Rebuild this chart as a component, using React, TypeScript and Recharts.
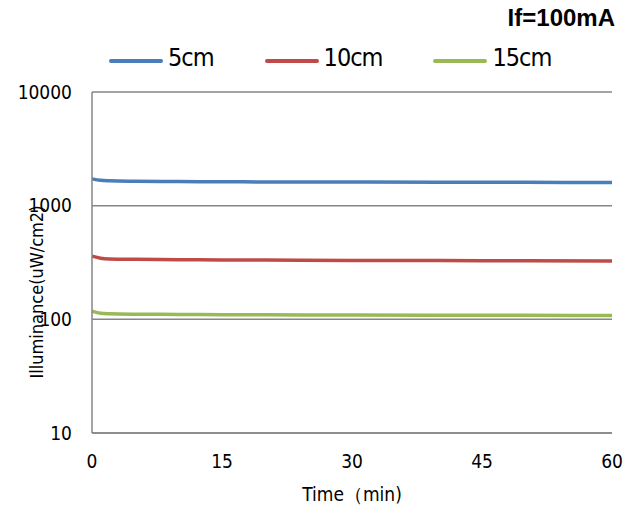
import React from "react";
import { LineChart, Line, XAxis, YAxis, CartesianGrid } from "recharts";

const times = [0, 1, 2, 5, 10, 15, 20, 30, 40, 50, 60];
const cm5 = [1720, 1670, 1655, 1640, 1630, 1622, 1617, 1612, 1607, 1603, 1600];
const cm10 = [360, 345, 340, 337, 335, 333, 332, 330, 329, 327, 326];
const cm15 = [118, 113, 112, 111, 110.5, 110, 109.7, 109, 108.7, 108.4, 108];
const xTicks = [0, 15, 30, 45, 60];
const yTicks = [10, 100, 1000, 10000];

const series = [
  { key: "cm5", name: "5cm", color: "#4a7ebb" },
  { key: "cm10", name: "10cm", color: "#be4b48" },
  { key: "cm15", name: "15cm", color: "#98b954" },
];

const data = times.map((t, i) => ({ t, cm5: cm5[i], cm10: cm10[i], cm15: cm15[i] }));

const font = "'Liberation Sans Narrow', 'DejaVu Sans Condensed', 'Liberation Sans', sans-serif";

export default function App() {
  return (
    <div style={{ position: "absolute", left: 0, top: 0, width: 635, height: 512, background: "#fff" }}>
      <div
        style={{
          position: "absolute",
          right: 20,
          top: 4,
          fontFamily: "'Liberation Sans', Arial, sans-serif",
          fontWeight: "bold",
          fontSize: 24,
          color: "#000",
        }}
      >
        If=100mA
      </div>
      <div
        style={{
          position: "absolute",
          left: 109,
          top: 43,
          display: "flex",
          fontFamily: font,
          fontSize: 25,
          letterSpacing: -1,
        }}
      >
        {series.map((s) => (
          <div key={s.key} style={{ display: "flex", alignItems: "center", marginRight: 51 }}>
            <div
              style={{
                width: 54,
                height: 4,
                borderRadius: 2,
                background: s.color,
                marginRight: 5,
                position: "relative",
                top: 3,
              }}
            />
            <span>{s.name}</span>
          </div>
        ))}
      </div>
      <LineChart width={635} height={512} data={data} margin={{ top: 92, right: 23, bottom: 0, left: 0 }}>
        <CartesianGrid vertical={false} stroke="#868686" strokeWidth={1.5} />
        <XAxis
          dataKey="t"
          type="number"
          domain={[0, 60]}
          ticks={xTicks}
          height={79}
          stroke="#868686"
          strokeWidth={1.5}
          tickLine={false}
          tickMargin={16}
          tick={{ fill: "#000", fontSize: 19, fontFamily: font }}
          label={{
            content: () => (
              <text x={352} y={501} textAnchor="middle" fontSize={19} fontFamily={font} fill="#000">
                Time（min)
              </text>
            ),
          }}
        />
        <YAxis
          scale="log"
          domain={[10, 10000]}
          ticks={yTicks}
          allowDataOverflow
          width={92}
          stroke="#868686"
          strokeWidth={1.5}
          tickLine={false}
          tickMargin={14}
          tick={{ fill: "#000", fontSize: 19, fontFamily: font }}
          label={{
            content: () => (
              <text
                x={43}
                y={292}
                transform="rotate(-90 43 292)"
                textAnchor="middle"
                fontSize={18}
                fontFamily={font}
                fill="#000"
              >
                Illuminance(uW/cm2)
              </text>
            ),
          }}
        />
        {series.map((s) => (
          <Line
            key={s.key}
            dataKey={s.key}
            name={s.name}
            type="monotone"
            stroke={s.color}
            strokeWidth={3.5}
            dot={false}
            isAnimationActive={false}
          />
        ))}
      </LineChart>
    </div>
  );
}
